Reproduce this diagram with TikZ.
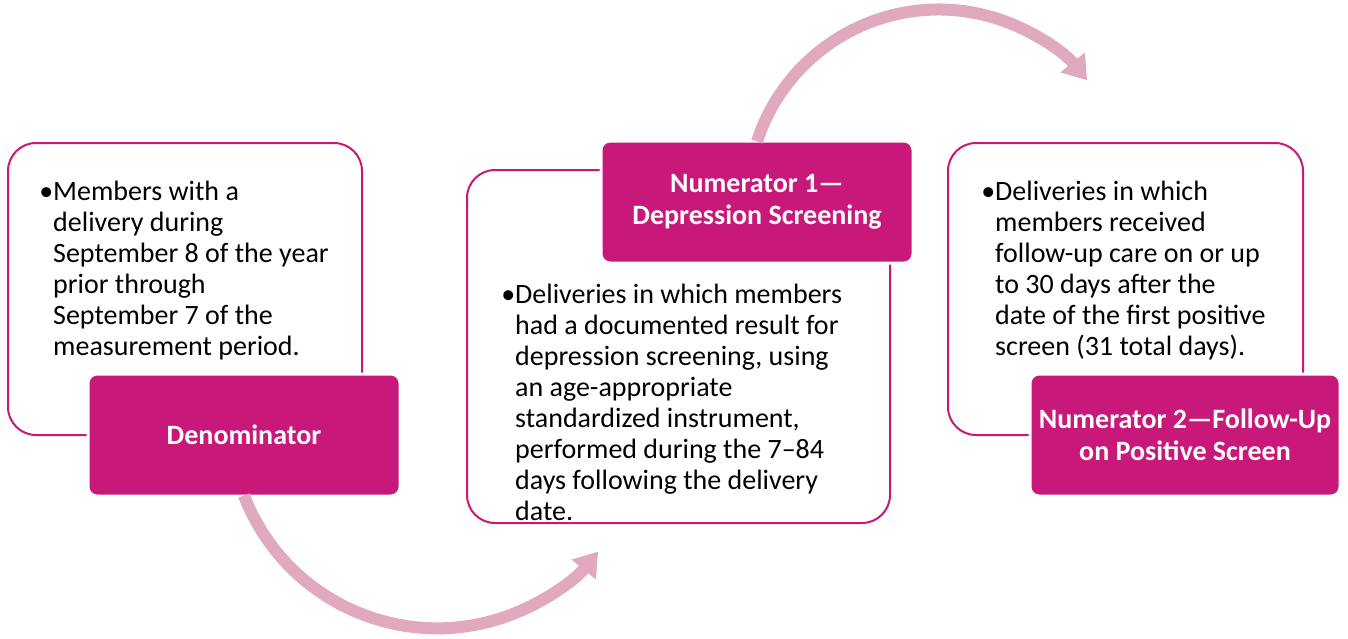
\documentclass[tikz,border=0pt]{standalone}
\usepackage{fontspec}
\setmainfont{Carlito}
\usetikzlibrary{arrows.meta,positioning}
\definecolor{hedmagenta}{HTML}{C8197A}
\definecolor{hedpink}{HTML}{E0A9BD}

\begin{document}
\begin{tikzpicture}[x=1pt,y=-1pt,
    outline/.style={draw=hedmagenta,line width=2pt,rounded corners=28pt},
    titlebox/.style={fill=hedmagenta,draw=white,line width=3pt,rounded corners=9pt,
      text=white,align=center,font=\bfseries\fontsize{28}{32}\selectfont},
    bodytext/.style={anchor=north west,inner sep=0pt,align=left,
      font=\fontsize{28}{31}\selectfont},
    flowarrow/.style={draw=hedpink,line width=12pt,
      -{Triangle[width=30pt,length=23pt]}}]

  \useasboundingbox (0,0) rectangle (1348,638);

  % outline boxes
  \node[outline,minimum width=354pt,minimum height=292pt] (box1) at (185,289) {};
  \node[outline,minimum width=423pt,minimum height=353pt] (box2) at (678.5,346.5) {};
  \node[outline,minimum width=355pt,minimum height=292pt] (box3) at (1125.5,289) {};

  % bullet texts
  \node[bodytext] (txt1) at (53,180.5)
    {\llap{•}Members with a\\delivery during\\September 8 of the year\\prior through\\September 7 of the\\measurement period.};
  \node[bodytext] (txt2) at (515,283.5)
    {\llap{•}Deliveries in which members\\had a documented result for\\depression screening, using\\an age-appropriate\\standardized instrument,\\performed during the 7–84\\days following the delivery\\date.};
  \node[bodytext] (txt3) at (995,180.5)
    {\llap{•}Deliveries in which\\members received\\follow-up care on or up\\to 30 days after the\\date of the first positive\\screen (31 total days).};

  % title boxes
  \node[titlebox,minimum width=312pt,minimum height=122pt] (denom) at (244,435) {Denominator};
  \node[titlebox,minimum width=312pt,minimum height=122pt] (num1) at (757,202) {Numerator 1—\\Depression Screening};
  \node[titlebox,minimum width=310pt,minimum height=122pt] (num2) at (1185,435) {Numerator 2—Follow-Up\\on Positive Screen};

  % arrows
  \coordinate (arcAbeg) at ([yshift=2pt]denom.south);
  \coordinate (arcBbeg) at ([yshift=-2pt]num1.north);
  \draw[flowarrow] (arcAbeg) arc[start angle=159,end angle=39,radius=207];
  \draw[flowarrow] (arcBbeg) arc[start angle=198,end angle=321,radius=191];
\end{tikzpicture}
\end{document}
